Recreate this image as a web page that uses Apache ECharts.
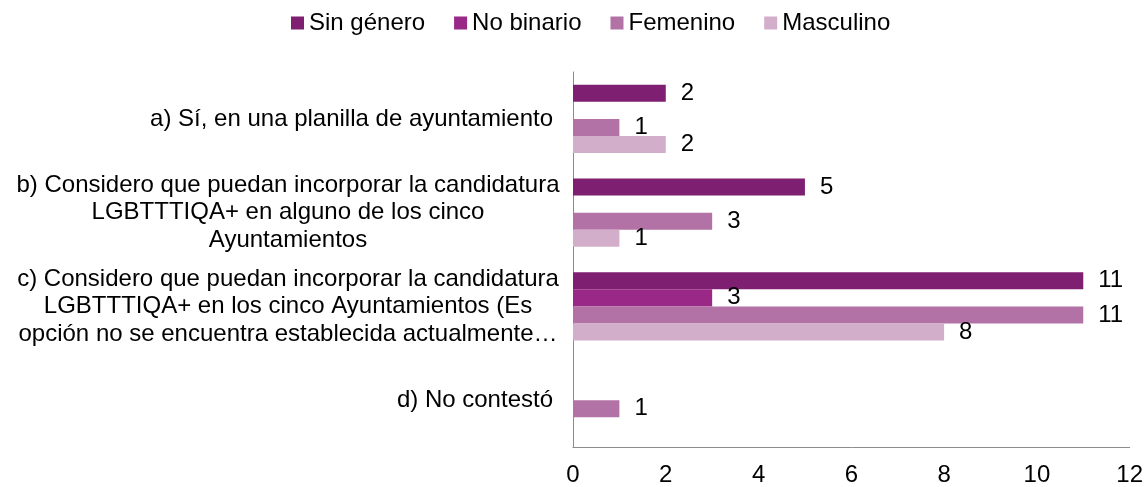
<!DOCTYPE html>
<html><head><meta charset="utf-8">
<script src="https://cdn.jsdelivr.net/npm/echarts@6/dist/echarts.min.js"></script>
<style>html,body{margin:0;padding:0;background:#fff}#c{width:1146px;height:487px}</style>
</head><body><div id="c"></div>
<script>
const categories = [
  ['a) Sí, en una planilla de ayuntamiento'],
  ['b) Considero que puedan incorporar la candidatura', 'LGBTTTIQA+ en alguno de los cinco', 'Ayuntamientos'],
  ['c) Considero que puedan incorporar la candidatura', 'LGBTTTIQA+ en los cinco Ayuntamientos (Es', 'opción no se encuentra establecida actualmente…'],
  ['d) No contestó']
];
const seriesNames = ['Sin género', 'No binario', 'Femenino', 'Masculino'];
const sinGenero = [2, 5, 11, null];
const noBinario = [null, null, 3, null];
const femenino = [1, 3, 11, 1];
const masculino = [2, 1, 8, null];
const xTicks = [0, 2, 4, 6, 8, 10, 12];
const colors = ['#7e1f71', '#992886', '#b272a6', '#d2aecb'];

const values = [sinGenero, noBinario, femenino, masculino];
const font = 'Liberation Sans, Arial, sans-serif';
const catSize = 24;
const chart = echarts.init(document.getElementById('c'), null, {renderer: 'canvas'});
chart.setOption({
  animation: false,
  backgroundColor: '#fff',
  textStyle: {fontFamily: font},
  legend: {
    top: 6, left: 286, itemWidth: 13, itemHeight: 13, itemGap: 29,
    icon: 'rect',
    textStyle: {fontSize: 24, color: '#000', fontFamily: font},
    data: seriesNames
  },
  grid: {left: 573, right: 15, top: 72, bottom: 40},
  xAxis: {
    type: 'value', min: xTicks[0], max: xTicks[xTicks.length - 1], interval: 2,
    axisLine: {show: true, lineStyle: {color: '#8c8c8c'}},
    axisTick: {show: false},
    splitLine: {show: false},
    axisLabel: {fontSize: 24, color: '#000', margin: 16, fontFamily: font}
  },
  yAxis: {
    type: 'category', inverse: true,
    data: categories.map(c => c.join('\n')),
    axisLine: {show: true, lineStyle: {color: '#8c8c8c'}},
    axisTick: {show: false},
    axisLabel: {
      margin: 9, fontSize: catSize, color: '#000', fontFamily: font, lineHeight: 27.5,
      formatter: function (v) {
        const lines = v.split('\n');
        if (lines.length === 1) return '{r|' + lines[0] + '}';
        return lines.map(l => '{c|' + l + '}').join('\n');
      },
      rich: {
        c: {width: 552, align: 'center', fontSize: catSize, lineHeight: 27.5, color: '#000', fontFamily: font},
        r: {padding: [0, 11, 0, 0], fontSize: catSize, color: '#000', fontFamily: font}
      }
    }
  },
  series: seriesNames.map((n, i) => ({
    name: n, type: 'bar', data: values[i],
    barGap: '0%', barCategoryGap: '27%',
    itemStyle: {color: colors[i]},
    label: {show: true, position: 'right', distance: 15, fontSize: 24, color: '#000', fontFamily: font}
  }))
});
</script></body></html>
